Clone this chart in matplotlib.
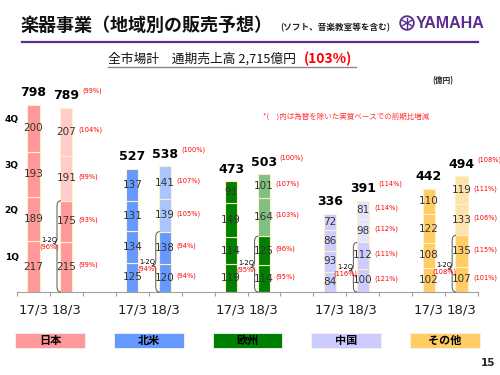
import matplotlib
matplotlib.use('Agg')
import matplotlib.pyplot as plt
import matplotlib.transforms as mtransforms
from matplotlib.patches import Rectangle, Circle, PathPatch
from matplotlib.path import Path
from matplotlib.lines import Line2D
import numpy as np

JPF = ['Noto Sans CJK JP', 'DejaVu Sans']

# ---------------- data ----------------
regions = ['日本', '北米', '欧州', '中国', 'その他']
years = ['17/3', '18/3']
quarters = ['1Q', '2Q', '3Q', '4Q']
# quarterly sales (億円), order 1Q..4Q
q_fy17 = [[217, 189, 193, 200],
          [125, 134, 131, 137],
          [119, 114, 149, 91],
          [84, 93, 86, 72],
          [102, 108, 122, 110]]
q_fy18 = [[215, 175, 191, 207],
          [120, 138, 139, 141],
          [114, 125, 164, 101],
          [100, 112, 98, 81],
          [107, 135, 133, 119]]
tot_fy17 = [798, 527, 473, 336, 442]
tot_fy18 = [789, 538, 503, 391, 494]
pct_q_fy18 = [[99, 93, 99, 104],
              [94, 94, 105, 107],
              [95, 96, 103, 107],
              [121, 111, 112, 114],
              [101, 115, 106, 111]]
pct_tot_fy18 = [99, 100, 100, 114, 108]
pct_h1_fy18 = [96, 94, 95, 116, 108]

dark_colors = ['#FF9999', '#6699FF', '#008000', '#CCCCFF', '#FFCC66']
light_colors = ['#FFCCCC', '#AAC4FF', '#80C080', '#E4E4FF', '#FFE3AE']

# ---------------- figure ----------------
fig = plt.figure(figsize=(5, 3.75), dpi=100)
W, H = 500, 375
ax = fig.add_axes([17 / W, (H - 292) / H, 461 / W, 212 / H])
ax.set_xlim(-0.5, 13.5)
ax.set_ylim(0, 906)

bw = 0.37
edge = '#FFF0C8'
pos17 = [3 * i for i in range(len(regions))]
pos18 = [3 * i + 1 for i in range(len(regions))]

for i in range(len(regions)):
    # FY17 bar
    bottom = 0
    for k, v in enumerate(q_fy17[i]):
        ax.bar(pos17[i], v, bw, bottom=bottom, color=dark_colors[i],
               edgecolor=edge, linewidth=0.8, zorder=2)
        ax.text(pos17[i], bottom + v / 2, str(v), ha='center', va='center',
                fontsize=7.5, color='#333333', zorder=4)
        bottom += v
    ax.annotate(str(tot_fy17[i]), (pos17[i], bottom), xytext=(0, 4),
                textcoords='offset points', ha='center', va='bottom',
                fontsize=9, fontweight='bold', color='black')
    # FY18 bar
    bottom = 0
    for k, v in enumerate(q_fy18[i]):
        c = dark_colors[i] if k < 2 else light_colors[i]
        ax.bar(pos18[i], v, bw, bottom=bottom, color=c,
               edgecolor=edge, linewidth=0.8, zorder=2)
        ax.text(pos18[i], bottom + v / 2, str(v), ha='center', va='center',
                fontsize=7.5, color='#333333', zorder=4)
        ax.text(pos18[i] + bw / 2 + 0.17, bottom + v / 2 + 8,
                '(%d%%)' % pct_q_fy18[i][k], ha='left', va='center',
                fontsize=4.8, color='#FF0000', zorder=4)
        bottom += v
    ax.annotate(str(tot_fy18[i]), (pos18[i], bottom), xytext=(0, 4),
                textcoords='offset points', ha='center', va='bottom',
                fontsize=9, fontweight='bold', color='black')
    ax.annotate('(%d%%)' % pct_tot_fy18[i], (pos18[i] + bw / 2 + 0.17, bottom),
                xytext=(3, 12), textcoords='offset points', ha='left',
                va='center', fontsize=4.8, color='#FF0000')

    # 1-2Q brace and label
    h1 = q_fy18[i][0] + q_fy18[i][1]
    ym = q_fy18[i][0] - 8
    xb = pos18[i] - bw / 2 - 0.1
    dx, ry = 0.12, 22
    verts = [(xb + dx, h1), (xb, h1), (xb, h1 - ry), (xb, ym + ry),
             (xb, ym), (xb - dx, ym), (xb, ym), (xb, ym - ry),
             (xb, ry), (xb, 0), (xb + dx, 0)]
    codes = [Path.MOVETO, Path.CURVE3, Path.CURVE3, Path.LINETO,
             Path.CURVE3, Path.CURVE3, Path.CURVE3, Path.CURVE3,
             Path.LINETO, Path.CURVE3, Path.CURVE3]
    ax.add_patch(PathPatch(Path(verts, codes), fill=False, edgecolor='#555555',
                           linewidth=0.7, zorder=5, clip_on=False))
    ax.text(pos17[i] + 0.47, ym + 4, '1-2Q', ha='center', va='bottom',
            fontsize=4.8, color='black', zorder=6)
    ax.text(pos17[i] + 0.47, ym + 2, '(%d%%)' % pct_h1_fy18[i], ha='center',
            va='top', fontsize=4.8, color='#FF0000', zorder=6)

# quarter labels at left, next to Japan FY17 bar
cum = np.cumsum([0] + q_fy17[0])
for k, q in enumerate(quarters):
    ax.text(-0.66, (cum[k] + cum[k + 1]) / 2 + 38, q, ha='center', va='center',
            fontsize=6.5, fontweight='bold', color='black')

# axes styling
for s in ['top', 'left', 'right']:
    ax.spines[s].set_visible(False)
ax.spines['bottom'].set_color('#A0A0A0')
ax.spines['bottom'].set_linewidth(0.8)
ax.set_yticks([])
ticks = []
labels = []
for i in range(len(regions)):
    ticks += [pos17[i], pos18[i]]
    labels += years
ax.set_xticks(ticks)
ax.set_xticklabels(labels, fontsize=9.5, color='#222222')
ax.tick_params(axis='x', which='major', length=0, pad=8)
ax.set_xticks(np.arange(-0.5, 14, 1), minor=True)
ax.tick_params(axis='x', which='minor', length=3, color='#A0A0A0', width=0.8)

# region legend boxes
tr = mtransforms.blended_transform_factory(ax.transData, fig.transFigure)
for i, r in enumerate(regions):
    cx = (pos17[i] + pos18[i]) / 2
    ax.add_patch(Rectangle((cx - 1.06, 1 - 348 / H), 2.12, 15 / H,
                           transform=tr, facecolor=dark_colors[i],
                           edgecolor='#F4F4F4', linewidth=0.6, clip_on=False))
    ax.text(cx, 1 - 340.5 / H, r, transform=tr, ha='center', va='center',
            fontsize=8, fontweight='bold', family=JPF, color='black')

# ---------------- header ----------------
def fx(x):
    return x / W

def fy(y):
    return 1 - y / H

fig.text(fx(20), fy(25), '楽器事業（地域別の販売予想）', fontsize=13,
         fontweight='bold', family=JPF, va='center', ha='left', color='#111111')
fig.text(fx(280), fy(28), '(ソフト、音楽教室等を含む)', fontsize=6.2,
         fontweight='bold', family=JPF, va='center', ha='left', color='#222222')
purple = '#5B2C8F'
fig.text(fx(416), fy(23), 'YAMAHA', fontsize=11.5, fontweight='bold',
         family=['Liberation Sans', 'DejaVu Sans'], va='center', ha='left',
         color=purple)
cxe, cye = 407 / 100, (H - 23) / 100
fig.add_artist(Circle((cxe, cye), 0.068, transform=fig.dpi_scale_trans,
                      fill=False, edgecolor=purple, linewidth=1.3))
for ang in range(0, 360, 60):
    a = np.deg2rad(ang + 90)
    fig.add_artist(Line2D([cxe, cxe + 0.055 * np.cos(a)],
                          [cye, cye + 0.055 * np.sin(a)],
                          transform=fig.dpi_scale_trans, color=purple,
                          linewidth=1.0))
fig.add_artist(Line2D([fx(22), fx(478)], [fy(42), fy(42)], color=purple,
                      linewidth=1.6))

fig.text(fx(108), fy(59), '全市場計　通期売上高 2,715億円', fontsize=9.2,
         family=JPF, va='center', ha='left', color='#111111')
fig.text(fx(304), fy(59), '(103%)', fontsize=10, fontweight='bold',
         family=JPF, va='center', ha='left', color='#FF0000')
fig.add_artist(Line2D([fx(108), fx(356)], [fy(67), fy(67)], color='#888888',
                      linewidth=1.0))
fig.text(fx(432), fy(81), '(億円)', fontsize=5.5, fontweight='bold',
         family=JPF, va='center', ha='left', color='#222222')
fig.text(fx(263), fy(117), '*(　)内は為替を除いた実質ベースでの前期比増減',
         fontsize=5.4, family=JPF, va='center', ha='left', color='#FF3333')
fig.text(fx(488), fy(363), '15', fontsize=7.5, fontweight='bold',
         va='center', ha='center', color='#222222')

fig.savefig('out.png', dpi=100)
